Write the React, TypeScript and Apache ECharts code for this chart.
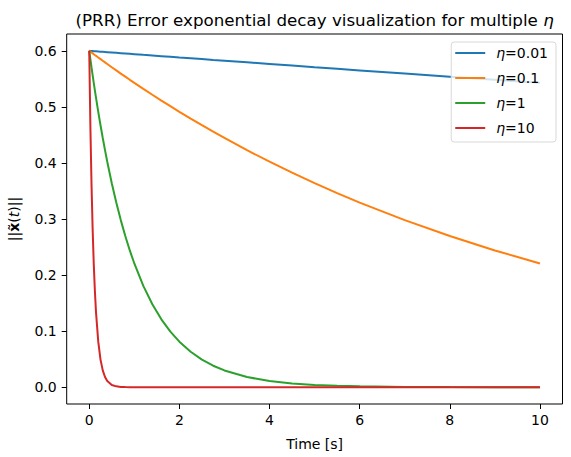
import React, { useEffect, useRef } from "react";
import * as echarts from "echarts";

// sample times [s]
const times = [
    0, 0.025, 0.05, 0.075, 0.1, 0.125, 0.15, 0.2, 0.25, 0.3, 0.35, 0.4, 0.5, 0.6,
    0.7, 0.8, 0.9, 1, 1.2, 1.4, 1.6, 1.8, 2, 2.25, 2.5, 2.75, 3, 3.5, 4, 4.5, 5,
    5.5, 6, 7, 8, 9, 10,
];

// ||x~(t)||
const eta001 = [
    0.6, 0.59985, 0.5997, 0.59955, 0.5994, 0.59925, 0.5991, 0.5988, 0.5985, 0.5982,
    0.5979, 0.5976, 0.597, 0.5964, 0.5958, 0.5952, 0.5946, 0.594, 0.5928, 0.5917,
    0.5905, 0.5893, 0.5881, 0.5867, 0.5852, 0.5837, 0.5823, 0.5794, 0.5765, 0.5736,
    0.5707, 0.5679, 0.5651, 0.5594, 0.5539, 0.5483, 0.5429,
];
const eta01 = [
    0.6, 0.5985, 0.597, 0.5955, 0.594, 0.5925, 0.5911, 0.5881, 0.5852, 0.5823,
    0.5794, 0.5765, 0.5707, 0.5651, 0.5594, 0.5539, 0.5483, 0.5429, 0.5322, 0.5216,
    0.5113, 0.5012, 0.4912, 0.4791, 0.4673, 0.4557, 0.4445, 0.4228, 0.4022, 0.3826,
    0.3639, 0.3462, 0.3293, 0.298, 0.2696, 0.2439, 0.2207,
];
const eta1 = [
    0.6, 0.5852, 0.5707, 0.5566, 0.5429, 0.5295, 0.5164, 0.4912, 0.4673, 0.4445,
    0.4228, 0.4022, 0.3639, 0.3293, 0.298, 0.2696, 0.2439, 0.2207, 0.1807, 0.148,
    0.1211, 0.0992, 0.0812, 0.0632, 0.0492, 0.0383, 0.0299, 0.0181, 0.011, 0.0067,
    0.004, 0.0025, 0.0015, 0.0005, 0.0002, 0.0001, 0.0,
];
const eta10 = [
    0.6, 0.4673, 0.3639, 0.2834, 0.2207, 0.1719, 0.1339, 0.0812, 0.0492, 0.0299,
    0.0181, 0.011, 0.004, 0.0015, 0.0005, 0.0002, 0.0001, 0.0, 0.0, 0.0,
    0.0, 0.0, 0.0, 0.0, 0.0, 0.0, 0.0, 0.0, 0.0, 0.0,
    0.0, 0.0, 0.0, 0.0, 0.0, 0.0, 0.0,
];

const seriesNames = ["η=0.01", "η=0.1", "η=1", "η=10"];
const seriesValues = [eta001, eta01, eta1, eta10];
const seriesColors = ["#1f77b4", "#ff7f0e", "#2ca02c", "#d62728"];

const xTicks = [0, 2, 4, 6, 8, 10];
const yTicks = [0, 0.1, 0.2, 0.3, 0.4, 0.5, 0.6];

const FONT = "DejaVu Sans";

const App = () => {
    const chartRef = useRef<HTMLDivElement>(null);

    useEffect(() => {
        if (!chartRef.current) return;
        const chart = echarts.init(chartRef.current, undefined, { renderer: "svg" });

        const option = {
            animation: false,
            textStyle: { fontFamily: FONT },
            graphic: [
                {
                    type: "text",
                    x: 314.6,
                    y: 20,
                    style: {
                        text: "(PRR) Error exponential decay visualization for multiple {i|η}",
                        fontFamily: FONT,
                        fontSize: 16.7,
                        fill: "#000",
                        align: "center",
                        verticalAlign: "middle",
                        rich: {
                            i: { fontFamily: FONT, fontSize: 16.7, fontStyle: "italic", fill: "#000" },
                        },
                    },
                },
            ],
            grid: {
                left: 66.7,
                right: 8.5,
                top: 34,
                bottom: 53,
                outerBoundsMode: "none",
                containLabel: false,
                show: true,
                borderColor: "#000",
                borderWidth: 1,
                backgroundColor: "transparent",
            },
            legend: {
                orient: "vertical",
                right: 15,
                top: 42,
                itemWidth: 30,
                itemHeight: 2,
                itemGap: 11,
                icon: "rect",
                padding: [4, 8, 7, 4],
                backgroundColor: "rgba(255,255,255,0.8)",
                borderColor: "#d9d9d9",
                borderWidth: 1,
                borderRadius: 3,
                data: seriesNames,
                formatter: (name: string) => "{i|η}" + name.slice(1),
                textStyle: {
                    fontFamily: FONT,
                    fontSize: 14,
                    color: "#000",
                    padding: [0, 0, 0, 6],
                    rich: {
                        i: { fontFamily: FONT, fontSize: 14, fontStyle: "italic", color: "#000" },
                    },
                },
            },
            xAxis: {
                type: "value",
                min: -0.5,
                max: 10.5,
                splitLine: { show: false },
                axisLine: { show: false, onZero: false },
                axisTick: {
                    show: true,
                    length: 5,
                    lineStyle: { color: "#000", width: 1 },
                    customValues: xTicks,
                },
                axisLabel: {
                    fontFamily: FONT,
                    fontSize: 14,
                    color: "#000",
                    margin: 9,
                    customValues: xTicks,
                    formatter: (v: number) => String(v),
                },
                name: "Time [s]",
                nameLocation: "middle",
                nameGap: 33,
                nameTextStyle: { fontFamily: FONT, fontSize: 14, color: "#000" },
            },
            yAxis: {
                type: "value",
                min: -0.03,
                max: 0.63,
                splitLine: { show: false },
                axisLine: { show: false, onZero: false },
                axisTick: {
                    show: true,
                    length: 5,
                    lineStyle: { color: "#000", width: 1 },
                    customValues: yTicks,
                },
                axisLabel: {
                    fontFamily: FONT,
                    fontSize: 14,
                    color: "#000",
                    margin: 10,
                    customValues: yTicks,
                    formatter: (v: number) => v.toFixed(1),
                },
                name: "||{b|x̃}({i|t})||",
                nameLocation: "middle",
                nameRotate: 90,
                nameGap: 46,
                nameTextStyle: {
                    fontFamily: FONT,
                    fontSize: 14,
                    color: "#000",
                    rich: {
                        b: { fontFamily: FONT, fontSize: 14, fontWeight: "bold", color: "#000" },
                        i: { fontFamily: FONT, fontSize: 14, fontStyle: "italic", color: "#000" },
                    },
                },
            },
            series: seriesNames.map((name, k) => ({
                name,
                type: "line",
                data: times.map((t, i) => [t, seriesValues[k][i]]),
                showSymbol: false,
                symbol: "none",
                lineStyle: { width: 2, color: seriesColors[k] },
                itemStyle: { color: seriesColors[k] },
                z: 2 + k,
            })),
        };

        chart.setOption(option);
        return () => {
            chart.dispose();
        };
    }, []);

    return (
        <div
            ref={chartRef}
            style={{ position: "fixed", left: 0, top: 0, width: "571px", height: "457px", background: "#fff" }}
        />
    );
};

export default App;
